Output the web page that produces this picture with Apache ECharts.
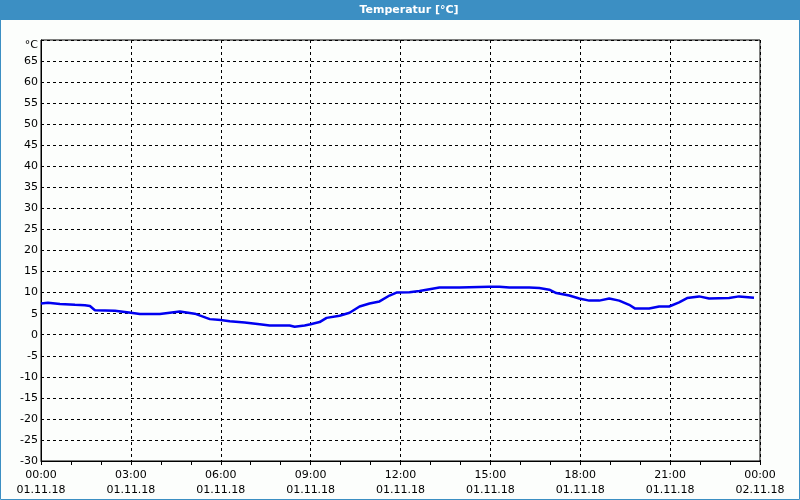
<!DOCTYPE html>
<html><head><meta charset="utf-8">
<script src="https://cdn.jsdelivr.net/npm/echarts@6/dist/echarts.min.js"></script>
<style>html,body{margin:0;padding:0;background:#fcfefc}#c{width:800px;height:500px}</style>
</head><body><div id="c"></div>
<script>
const titleText = 'Temperatur [°C]';
const tickTimes = ['00:00','03:00','06:00','09:00','12:00','15:00','18:00','21:00','00:00'];
const tickDates = ['01.11.18','01.11.18','01.11.18','01.11.18','01.11.18','01.11.18','01.11.18','01.11.18','02.11.18'];
// minutes since 01.11.18 00:00
const minutes = [0,14,38,68,88,98,108,148,180,198,238,258,278,308,338,360,378,408,438,458,498,508,528,540,558,572,598,618,638,658,678,698,712,738,758,798,838,898,918,938,978,998,1018,1032,1058,1078,1098,1118,1138,1158,1178,1190,1218,1238,1258,1278,1294,1318,1338,1378,1398,1428];
const temps =   [7.4,7.6,7.3,7.1,7.0,6.8,5.8,5.7,5.2,4.9,4.9,5.2,5.5,5.0,3.7,3.5,3.2,2.9,2.5,2.2,2.2,1.9,2.2,2.5,3.0,4.0,4.5,5.2,6.7,7.4,7.9,9.3,10.0,10.1,10.4,11.2,11.2,11.4,11.4,11.2,11.2,11.1,10.7,9.9,9.3,8.6,8.1,8.1,8.6,8.1,7.1,6.2,6.2,6.7,6.7,7.7,8.7,9.1,8.6,8.7,9.1,8.8];

const chart = echarts.init(document.getElementById('c'), null, {renderer:'canvas'});
const font = 'Tahoma, "DejaVu Sans", sans-serif';
chart.setOption({
  backgroundColor: '#fcfefc',
  animation: false,
  graphic: [
    {type:'rect', z:-1, shape:{x:0,y:0,width:800,height:20}, style:{fill:'#3c8fc3'}},
    {type:'rect', z:-1, shape:{x:0.5,y:0.5,width:799,height:499}, style:{fill:'none', stroke:'#3c8fc3', lineWidth:1}},
    {type:'text', x:409, y:10, style:{text:titleText, fill:'#ffffff', font:'bold 11px "DejaVu Sans", sans-serif', textAlign:'center', textVerticalAlign:'middle'}}
  ],
  grid: {left:41, right:40, top:40, bottom:39, show:true, borderColor:'#000', borderWidth:1, backgroundColor:'transparent'},
  xAxis: {
    type:'value', min:0, max:1440, interval:180,
    axisLine:{show:true, onZero:false, lineStyle:{color:'#000'}},
    axisTick:{show:true, length:4, lineStyle:{color:'#000'}},
    minorTick:{show:true, splitNumber:3, length:4, lineStyle:{color:'#000'}},
    splitLine:{show:true, lineStyle:{color:'#000', type:[3,3], width:1}},
    axisLabel:{
      color:'#000', fontSize:11, fontFamily:font, lineHeight:15, margin:7,
      formatter: v => { const i = Math.round(v/180); return tickTimes[i] + '\n' + tickDates[i]; }
    }
  },
  yAxis: {
    type:'value', min:-30, max:70, interval:5,
    axisLine:{show:true, lineStyle:{color:'#000'}},
    axisTick:{show:false},
    splitLine:{show:true, lineStyle:{color:'#000', type:[3,3], width:1}},
    axisLabel:{color:'#000', fontSize:11, fontFamily:font, margin:3,
      formatter: v => v === 70 ? '{u|°C}' : String(v),
      rich:{u:{fontSize:11, fontFamily:font, color:'#000', padding:[10,0,0,0]}}}
  },
  series: [{
    type:'line', data: minutes.map((m,i)=>[m,temps[i]]),
    showSymbol:false, smooth:false,
    lineStyle:{color:'#0000f0', width:2.5}
  }]
});
</script></body></html>
